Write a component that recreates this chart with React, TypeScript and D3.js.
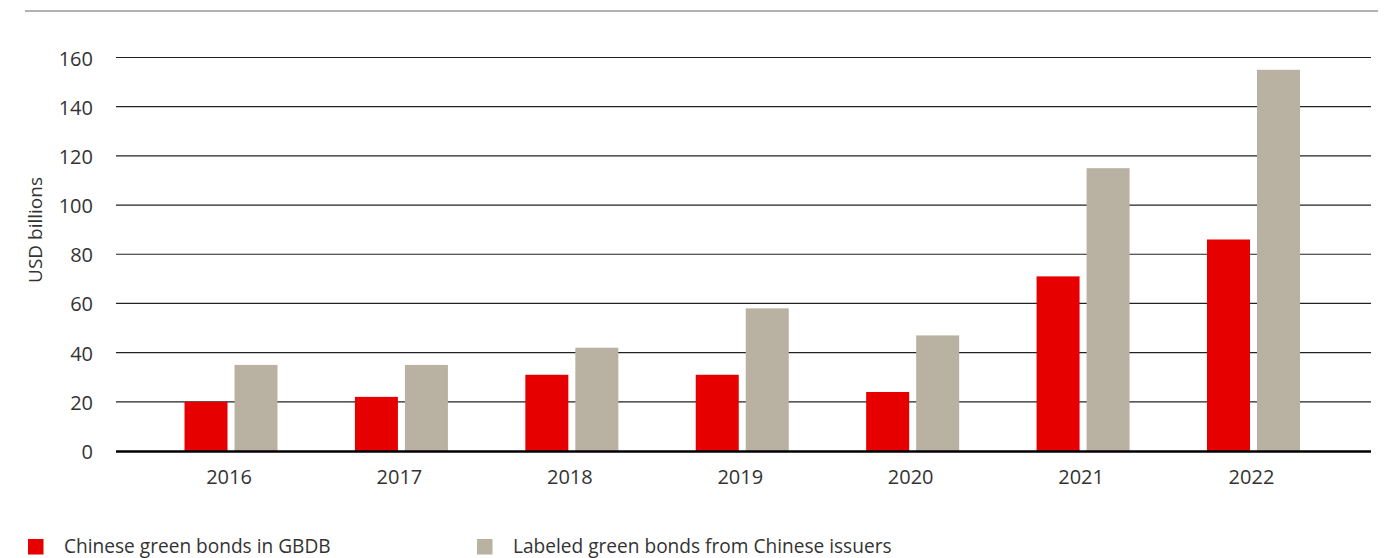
import React from "react";
import * as d3 from "d3";

const categories = ["2016", "2017", "2018", "2019", "2020", "2021", "2022"];
const seriesNames = ["Chinese green bonds in GBDB", "Labeled green bonds from Chinese issuers"];
const gbdbValues = [20, 22, 31, 31, 24, 71, 86];
const labeledValues = [35, 35, 42, 58, 47, 115, 155];
const yTicks = [0, 20, 40, 60, 80, 100, 120, 140, 160];
const colors = ["#E60000", "#B9B2A2"];

const W = 1388;
const H = 558;
const FONT = "'Open Sans', 'Noto Sans', sans-serif";

export default function App() {
  const y = d3.scaleLinear().domain([0, 160]).range([451, 57.5]);
  const x0 = d3.scaleBand().domain(categories).range([145.8, 1338.7]).padding(0);
  const x1 = d3.scaleBand().domain(seriesNames).range([0, 93]).paddingInner(0.14).paddingOuter(0);
  const offset = (x0.bandwidth() - 93) / 2;
  const seriesValues = [gbdbValues, labeledValues];
  const gridX1 = 116;
  const gridX2 = 1371;

  return (
    <svg
      width={W}
      height={H}
      style={{ position: "absolute", left: 0, top: 0, background: "#fff" }}
      fontFamily={FONT}
    >
      <line x1={25} x2={1378} y1={11} y2={11} stroke="#666" strokeWidth={1.2} />
      {yTicks.map((t) => (
        <g key={t}>
          {t !== 0 && (
            <line x1={gridX1} x2={gridX2} y1={y(t)} y2={y(t)} stroke="#222" strokeWidth={1.2} />
          )}
          <text x={93} y={y(t) + 8} textAnchor="end" fontSize={20} fill="#333">
            {t}
          </text>
        </g>
      ))}
      {categories.map((c, i) => (
        <g key={c} transform={`translate(${(x0(c) as number) + offset},0)`}>
          {seriesNames.map((s, j) => (
            <rect
              key={s}
              x={x1(s)}
              y={y(seriesValues[j][i])}
              width={x1.bandwidth()}
              height={y(0) - y(seriesValues[j][i])}
              fill={colors[j]}
            />
          ))}
        </g>
      ))}
      <line x1={gridX1} x2={gridX2} y1={y(0) + 0.5} y2={y(0) + 0.5} stroke="#000" strokeWidth={2.5} />
      {categories.map((c) => (
        <text
          key={c}
          x={(x0(c) as number) + x0.bandwidth() / 2 - 2}
          y={484}
          textAnchor="middle"
          fontSize={20}
          fill="#333"
        >
          {c}
        </text>
      ))}
      <text
        transform="translate(42,230) rotate(-90)"
        textAnchor="middle"
        fontSize={19}
        fill="#333"
      >
        USD billions
      </text>
      {seriesNames.map((s, j) => {
        const lx = j === 0 ? 28 : 477;
        return (
          <g key={s}>
            <rect x={lx} y={539} width={15.5} height={15.5} fill={colors[j]} />
            <text x={lx + 36} y={553} fontSize={19.1} fill="#333">
              {s}
            </text>
          </g>
        );
      })}
    </svg>
  );
}
